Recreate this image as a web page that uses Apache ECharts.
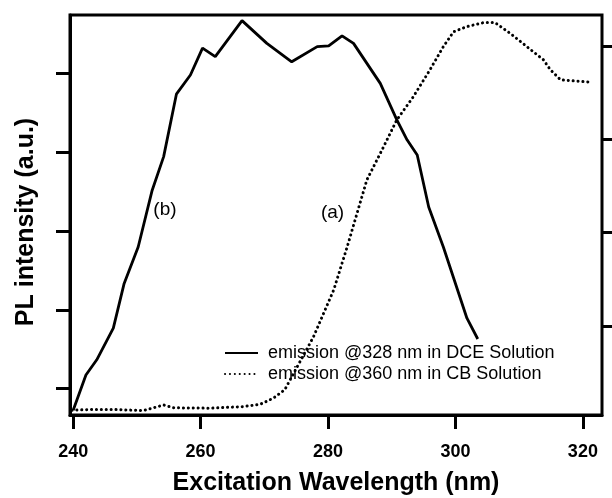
<!DOCTYPE html>
<html>
<head>
<meta charset="utf-8">
<script src="https://cdn.jsdelivr.net/npm/echarts@6/dist/echarts.min.js"></script>
<style>
  html, body { margin: 0; padding: 0; background: #fff; }
  #main { width: 612px; height: 498px; }
</style>
</head>
<body>
<div id="main"></div>
<script>
// excitation wavelength (nm) / intensity (a.u.)
const dceWave = [240.0, 242.0, 243.7, 246.3, 248.0, 250.2, 252.4, 254.2, 256.2, 258.4, 260.3, 262.3, 266.5,
  270.4, 274.3, 278.3, 280.1, 282.2, 284.0, 288.2, 290.8, 292.4, 294.0, 295.8, 298.1, 301.8, 303.5];
const dceInt = [1.2, 10, 13.8, 21.7, 32.9, 42, 56.2, 64.6, 80.2, 85, 91.7, 89.6, 98.6,
  92.9, 88.3, 92.1, 92.3, 94.8, 92.9, 82.9, 73.8, 68.8, 65, 52, 42, 24.2, 19];

const cbWave = [239.8, 243.2, 246.0, 251.0, 254.2, 255.7, 261.5, 266.7, 269.4, 271.4, 273.2, 277.7, 280.9,
  283.0, 286.1, 288.7, 290.8, 293.4, 296.0, 298.1, 299.7, 301.8, 304.4, 306.2, 308.6, 311.2, 313.8,
  314.9, 316.5, 321.4];
const cbInt = [1.2, 1.4, 1.4, 1.1, 2.5, 1.8, 1.7, 2.1, 2.7, 4.2, 6.3, 19.5, 31.3,
  42, 58.8, 67, 73.8, 79.6, 86.3, 92.1, 95.8, 97.1, 98.1, 98.1, 95.4, 92.1, 88.8,
  86.3, 83.8, 83.2];

const xTicks = [240, 260, 280, 300, 320];
const leftTicks = [6.6, 26.3, 46, 65.7, 85.4];
const rightTicks = [22.3, 45.8, 68.9, 92.1];

const seriesNames = ['emission @328 nm in DCE Solution', 'emission @360 nm in CB Solution'];

const font = "'Liberation Sans', Arial, sans-serif";

function pairs(xs, ys) {
  return xs.map((x, i) => [x, ys[i]]);
}

const chart = echarts.init(document.getElementById('main'));

const option = {
  animation: false,
  textStyle: { fontFamily: font, color: '#000' },
  grid: {
    left: 70, right: 10, top: 15, bottom: 83,
    outerBoundsMode: 'none',
    containLabel: false,
    show: true, borderColor: '#000', borderWidth: 3, backgroundColor: 'transparent'
  },
  legend: {
    orient: 'vertical',
    left: 219, top: 339,
    itemWidth: 33, itemHeight: 14, itemGap: 3,
    itemStyle: { opacity: 0 },
    textStyle: { fontFamily: font, fontSize: 18, color: '#000', padding: [0, 0, 0, 5] },
    data: seriesNames
  },
  xAxis: {
    type: 'value',
    min: 239.5, max: 323,
    name: 'Excitation Wavelength (nm)',
    nameLocation: 'middle', nameGap: 56,
    nameTextStyle: { fontFamily: font, fontSize: 25, fontWeight: 'bold', color: '#000' },
    axisLine: { show: true, lineStyle: { color: '#000', width: 3 } },
    axisTick: { show: true, inside: false, length: 14, lineStyle: { color: '#000', width: 3 }, customValues: xTicks },
    axisLabel: { show: true, margin: 28, fontFamily: font, fontSize: 18, fontWeight: 'bold', color: '#000', customValues: xTicks },
    splitLine: { show: false }
  },
  yAxis: [
    {
      type: 'value', min: 0, max: 100, position: 'left',
      name: 'PL intensity (a.u.)',
      nameLocation: 'middle', nameGap: 31,
      nameTextStyle: { fontFamily: font, fontSize: 25, fontWeight: 'bold', color: '#000', padding: [0, 14, 0, 0] },
      axisLine: { show: true, lineStyle: { color: '#000', width: 3 } },
      axisTick: { show: true, length: 14, lineStyle: { color: '#000', width: 3 }, customValues: leftTicks },
      axisLabel: { show: false },
      splitLine: { show: false }
    },
    {
      type: 'value', min: 0, max: 100, position: 'right',
      axisLine: { show: true, lineStyle: { color: '#000', width: 2 } },
      axisTick: { show: true, length: 12, lineStyle: { color: '#000', width: 3 }, customValues: rightTicks },
      axisLabel: { show: false },
      splitLine: { show: false }
    }
  ],
  series: [
    {
      name: seriesNames[0],
      type: 'line',
      yAxisIndex: 0,
      data: pairs(dceWave, dceInt),
      symbol: 'none',
      lineStyle: { color: '#000', width: 2.8 },
      itemStyle: { color: '#000' },
      markPoint: {
        symbol: 'circle', symbolSize: 0,
        label: { show: true, formatter: '(b)', fontFamily: font, fontSize: 19, color: '#000' },
        data: [{ coord: [254.4, 51.3] }]
      }
    },
    {
      name: seriesNames[1],
      type: 'line',
      yAxisIndex: 1,
      data: pairs(cbWave, cbInt),
      symbol: 'none',
      lineStyle: { color: '#000', width: 3, type: [0.1, 4.8], cap: 'round' },
      itemStyle: { color: '#000' },
      markPoint: {
        symbol: 'circle', symbolSize: 0,
        label: { show: true, formatter: '(a)', fontFamily: font, fontSize: 19, color: '#000' },
        data: [{ coord: [280.7, 50.5] }]
      }
    }
  ]
};

chart.setOption(option);
</script>
</body>
</html>
